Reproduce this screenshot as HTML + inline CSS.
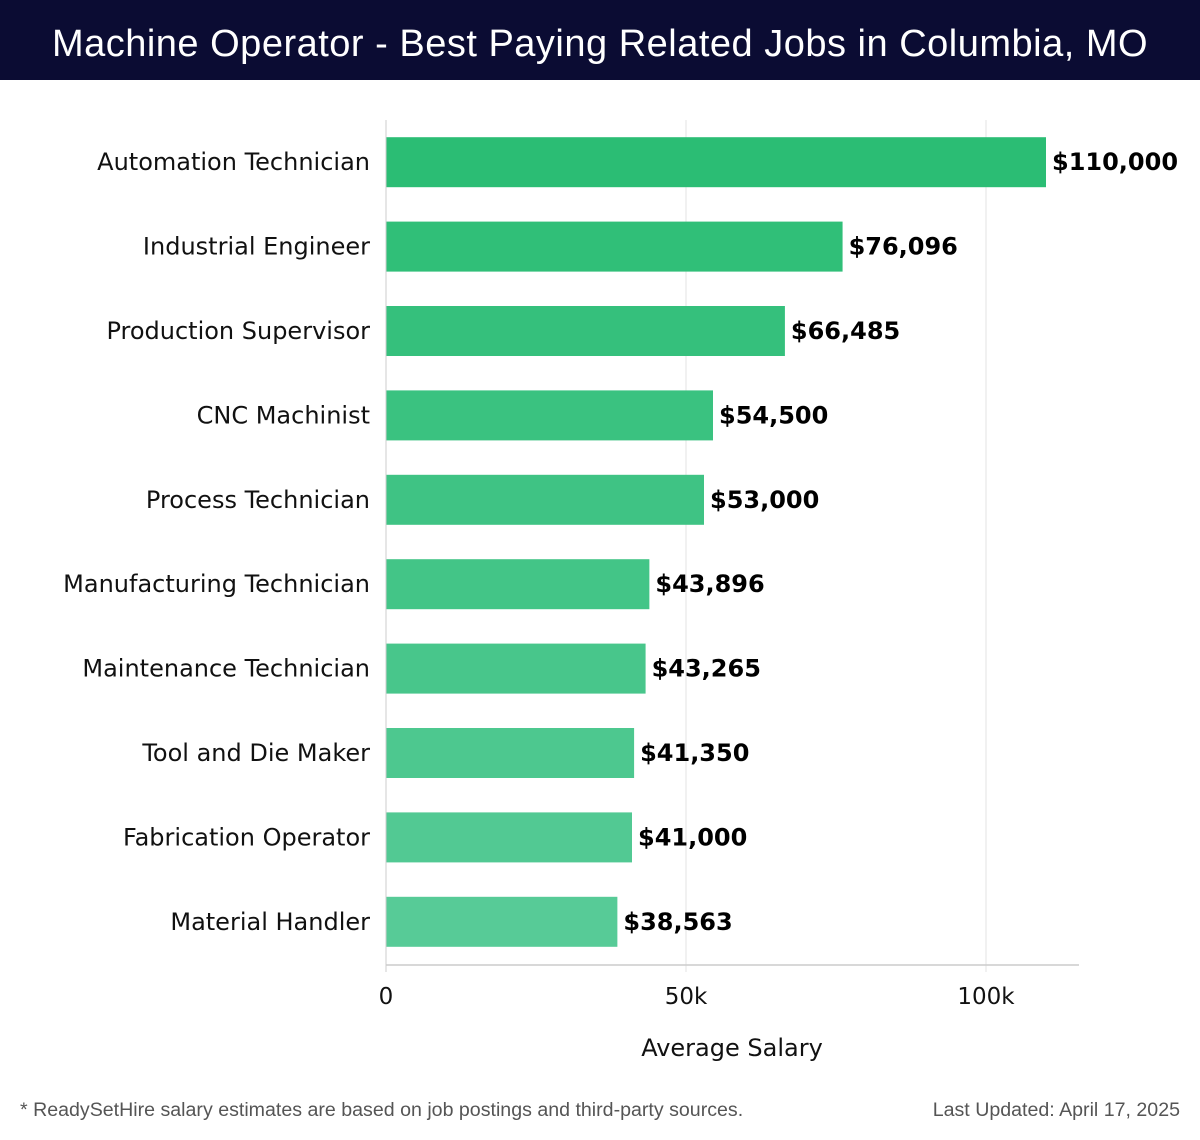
<!DOCTYPE html>
<html><head><meta charset="utf-8"><style>
body{margin:0;width:1200px;height:1140px;background:#fff;font-family:"DejaVu Sans","Liberation Sans",sans-serif;overflow:hidden;position:relative}
#title{position:absolute;left:0;top:0;width:1200px;height:80px;background:#0b0c33;color:#fff;font-size:38px;text-align:center;line-height:88px;font-weight:300;font-family:"Liberation Sans",sans-serif;letter-spacing:0.5px}
.foot{position:absolute;top:1099px;font-size:19.6px;color:#555;font-family:"Liberation Sans",sans-serif}
</style></head><body>
<div id="title">Machine Operator - Best Paying Related Jobs in Columbia, MO</div>
<svg id="chart" width="1200" height="1140" style="position:absolute;left:0;top:0"></svg>
<div class="foot" style="left:20px">* ReadySetHire salary estimates are based on job postings and third-party sources.</div>
<div class="foot" style="right:20px">Last Updated: April 17, 2025</div>
<script>
const categories=["Automation Technician","Industrial Engineer","Production Supervisor","CNC Machinist","Process Technician","Manufacturing Technician","Maintenance Technician","Tool and Die Maker","Fabrication Operator","Material Handler"];
const salaries=[110000,76096,66485,54500,53000,43896,43265,41350,41000,38563];
const tickValues=[0,50000,100000];
const tickLabels=["0","50k","100k"];
const NS="http://www.w3.org/2000/svg";
const svg=document.getElementById('chart');
const x0=386,pxPer=300/50000,xMax=1079;
const x=v=>x0+v*pxPer;
const rowTop=120,pitch=84.4,barH=50;
const yc=i=>rowTop+pitch*(i+0.5);
function mk(t,a){const e=document.createElementNS(NS,t);for(const k in a)e.setAttribute(k,a[k]);svg.appendChild(e);return e;}
tickValues.forEach((v,i)=>{
 const g=mk('line',{x1:x(v),x2:x(v),y1:120,y2:972,stroke:'#e3e3e3','stroke-width':1});
 
 
 const t=mk('text',{x:x(v),y:1004,'text-anchor':'middle','font-size':23,fill:'#111'});
 t.textContent=tickLabels[i];
 
 
});
const ax=mk('line',{x1:x0,x2:xMax,y1:965,y2:965,stroke:'#ccc','stroke-width':1.5});


const c0=[43,189,116],c1=[87,203,151];
categories.forEach((c,i)=>{
 const f=i/(categories.length-1);
 const col=`rgb(${c0.map((v,k)=>Math.round(v+(c1[k]-v)*f)).join(',')})`;
 const r=mk('rect',{x:x0,y:yc(i)-barH/2,width:x(salaries[i])-x0,height:barH,fill:col});
 
 
 const l=mk('text',{x:370,y:yc(i)+8,'text-anchor':'end','font-size':24,fill:'#111'});
 l.textContent=c;
 
 
 const v=mk('text',{x:x(salaries[i])+6,y:yc(i)+8,'font-size':24,'font-weight':'bold',fill:'#000'});
 v.textContent='$'+salaries[i].toLocaleString('en-US');
 
 
});
const yl=mk('line',{x1:x0,x2:x0,y1:120,y2:972,stroke:'#ccc','stroke-width':1});


const at=mk('text',{x:732,y:1056,'text-anchor':'middle','font-size':24,fill:'#111'});
at.textContent='Average Salary';


</script>
</body></html>
